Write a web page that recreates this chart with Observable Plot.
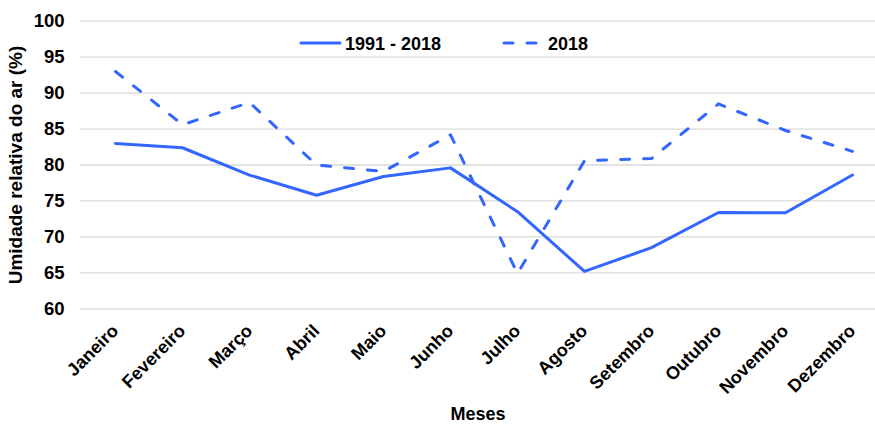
<!DOCTYPE html>
<html><head><meta charset="utf-8">
<script src="https://cdn.jsdelivr.net/npm/d3@7"></script>
<script src="https://cdn.jsdelivr.net/npm/@observablehq/plot@0.6"></script>
<style>
body{margin:0;background:#fff;font-family:"Liberation Sans",Arial,sans-serif;}
#wrap{position:relative;width:875px;height:425px;}
#legend{position:absolute;left:0;top:0;width:875px;height:60px;pointer-events:none;}
#chart svg text{font-weight:bold !important;fill:#000 !important;font-family:"Liberation Sans",Arial,sans-serif !important;}
</style></head>
<body><div id="wrap"><div id="chart"></div>
<svg id="legend" width="875" height="60">
  <line x1="301" y1="43" x2="340" y2="43" stroke="#3366FF" stroke-width="3" stroke-linecap="round"/>
  <text x="345" y="49.5" font-family="Liberation Sans, Arial" font-weight="bold" font-size="18" fill="#000">1991 - 2018</text>
  <line x1="504" y1="43" x2="540" y2="43" stroke="#3366FF" stroke-width="3" stroke-linecap="round" stroke-dasharray="9,14"/>
  <text x="548" y="49.5" font-family="Liberation Sans, Arial" font-weight="bold" font-size="18" fill="#000">2018</text>
</svg></div>
<script>
const months = ["Janeiro","Fevereiro","Março","Abril","Maio","Junho","Julho","Agosto","Setembro","Outubro","Novembro","Dezembro"];
const normal = [83.0, 82.4, 78.6, 75.8, 78.4, 79.6, 73.5, 65.2, 68.5, 73.4, 73.35, 78.6];
const y2018 = [93.0, 85.6, 88.7, 80.0, 79.1, 84.2, 64.9, 80.6, 80.9, 88.5, 84.8, 81.9];
const yTicks = [60, 65, 70, 75, 80, 85, 90, 95, 100];

const dNormal = months.map((m, i) => ({month: m, value: normal[i]}));
const d2018 = months.map((m, i) => ({month: m, value: y2018[i]}));

const chart = Plot.plot({
  width: 875, height: 425,
  marginLeft: 80, marginRight: 0, marginTop: 20.7, marginBottom: 116.7,
  style: {fontFamily: "Liberation Sans, Arial, sans-serif", fontSize: "17px", fontWeight: "bold", color: "#000", background: "#fff"},
  x: {type: "point", domain: months, range: [114, 853], padding: 0},
  y: {domain: [60, 100]},
  marks: [
    Plot.gridY(yTicks, {stroke: "#d9d9d9", strokeOpacity: 1, strokeWidth: 1.3}),
    Plot.axisY(yTicks, {tickSize: 0, tickPadding: 16, label: "Umidade relativa do ar (%)", labelAnchor: "center", labelOffset: 72, labelArrow: false}),
    Plot.axisX({tickSize: 0, tickPadding: 19, tickRotate: -45, label: "Meses", labelAnchor: "center", labelOffset: 111, labelArrow: false}),
    Plot.line(dNormal, {x: "month", y: "value", stroke: "#3366FF", strokeWidth: 3}),
    Plot.line(d2018, {x: "month", y: "value", stroke: "#3366FF", strokeWidth: 3, strokeDasharray: "9,14", strokeLinecap: "round"})
  ]
});
const sizes = {"y-axis tick label": "18.5px", "y-axis label": "19px", "x-axis tick label": "18px", "x-axis label": "18px"};
chart.querySelectorAll("text").forEach(t => {
  const g = t.closest("g[aria-label]");
  const key = g ? g.getAttribute("aria-label") : null;
  if (key && sizes[key]) t.style.setProperty("font-size", sizes[key], "important");
});
document.getElementById("chart").appendChild(chart);
</script></body></html>
